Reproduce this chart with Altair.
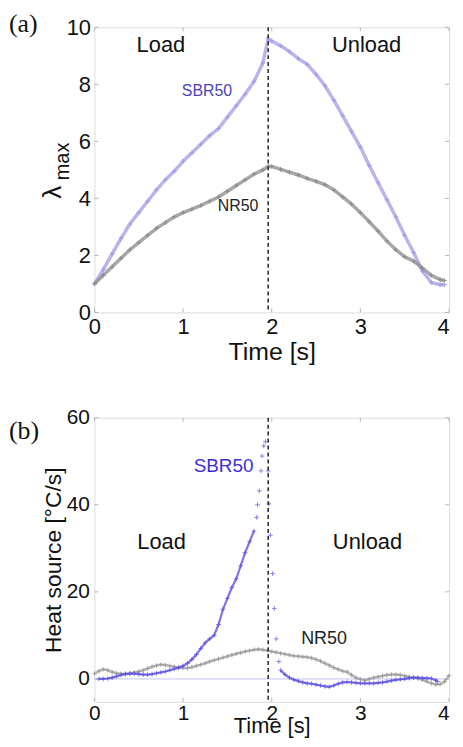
import altair as alt
import pandas as pd

# ---------------- Panel (a): lambda_max vs time ----------------
a_time = [0.0, 0.1, 0.2, 0.3, 0.4, 0.5, 0.6, 0.7, 0.8, 0.9, 1.0, 1.1, 1.2, 1.3, 1.4,
          1.5, 1.6, 1.7, 1.8, 1.9, 1.96,
          2.0, 2.1, 2.2, 2.3, 2.4, 2.5, 2.6, 2.7, 2.8, 2.9, 3.0, 3.1, 3.2, 3.3, 3.4,
          3.5, 3.6, 3.7, 3.8, 3.9, 3.95]
a_sbr50 = [1.0, 1.5, 2.05, 2.6, 3.1, 3.5, 3.9, 4.3, 4.65, 4.95, 5.3, 5.6, 5.9, 6.2, 6.45,
           6.85, 7.25, 7.65, 8.1, 8.75, 9.6,
           9.52, 9.35, 9.15, 8.9, 8.7, 8.35, 7.95, 7.45, 6.9, 6.35, 5.8, 5.15, 4.55, 3.95, 3.35,
           2.7, 2.1, 1.45, 1.05, 0.97, 0.97]
a_nr50 = [1.0, 1.3, 1.6, 1.9, 2.2, 2.45, 2.7, 2.95, 3.15, 3.35, 3.5, 3.62, 3.75, 3.9, 4.05,
          4.25, 4.45, 4.65, 4.85, 5.0, 5.12,
          5.12, 5.02, 4.92, 4.82, 4.7, 4.6, 4.48, 4.3, 4.05, 3.8, 3.5, 3.18, 2.85, 2.5, 2.2,
          1.95, 1.8, 1.55, 1.3, 1.15, 1.12]

# ---------------- Panel (b): heat source vs time ----------------
b_sbr_time = [0.05, 0.1, 0.15, 0.2, 0.25, 0.3, 0.35, 0.4, 0.45, 0.5, 0.55, 0.6, 0.65, 0.7,
              0.75, 0.8, 0.85, 0.9, 0.95, 1.0, 1.05, 1.1, 1.15, 1.2, 1.25, 1.3, 1.35, 1.4,
              1.45, 1.5, 1.55, 1.6, 1.65, 1.7, 1.75, 1.8,
              1.83, 1.84, 1.86, 1.88, 1.89, 1.91, 1.93, 1.96, 1.97, 1.985, 2.01, 2.03, 2.05, 2.08,
              2.1, 2.15, 2.2, 2.25, 2.3, 2.35, 2.4, 2.45, 2.5, 2.55, 2.6, 2.65, 2.7, 2.75,
              2.8, 2.85, 2.9, 2.95, 3.0, 3.05, 3.1, 3.15, 3.2, 3.25, 3.3, 3.35, 3.4, 3.45,
              3.5, 3.55, 3.6, 3.65, 3.7, 3.75, 3.8, 3.85, 3.87]
b_sbr50 = [0.0, 0.0, 0.1, 0.3, 0.6, 0.9, 1.1, 1.2, 1.2, 1.1, 1.0, 1.0, 1.1, 1.3,
           1.5, 1.7, 2.0, 2.3, 2.6, 3.0, 3.6, 4.5, 5.6, 7.0, 8.3, 9.2, 10.0, 12.5,
           16.0, 18.5, 21.0, 23.0, 26.0, 29.0, 31.5, 34.0,
           37.1, 40.0, 43.2, 47.8, 51.2, 53.5, 54.5, 47.8, 40.2, 33.0, 24.2, 16.2, 9.2, 4.0,
           2.0, 1.0, 0.3, -0.2, -0.5, -0.8, -1.0, -1.1, -1.3, -1.5, -1.7, -1.8, -1.5, -1.1,
           -0.8, -0.7, -0.8, -0.9, -1.0, -1.0, -1.0, -1.0, -0.9, -0.8, -0.6, -0.4, -0.2, -0.1,
           0.0, 0.2, 0.3, 0.3, 0.2, 0.2, 0.1, -0.3, -0.6]
# segment id: dense parts are joined by a line, the sparse peak is points only
b_sbr_seg = [1] * 36 + [2] * 14 + [3] * 37

b_nr_time = [0.0, 0.05, 0.1, 0.15, 0.2, 0.25, 0.3, 0.35, 0.4, 0.45, 0.5, 0.55, 0.6, 0.65,
             0.7, 0.75, 0.8, 0.85, 0.9, 0.95, 1.0, 1.05, 1.1, 1.15, 1.2, 1.25, 1.3, 1.35,
             1.4, 1.45, 1.5, 1.55, 1.6, 1.65, 1.7, 1.75, 1.8, 1.85, 1.9, 1.95, 2.0, 2.05,
             2.1, 2.15, 2.2, 2.25, 2.3, 2.35, 2.4, 2.45, 2.5, 2.55, 2.6, 2.65, 2.7, 2.75,
             2.8, 2.85, 2.9, 2.95, 3.0, 3.05, 3.1, 3.15, 3.2, 3.25, 3.3, 3.35, 3.4, 3.45,
             3.5, 3.55, 3.6, 3.65, 3.7, 3.75, 3.8, 3.85, 3.9, 3.95, 4.0]
b_nr50 = [1.2, 1.8, 2.2, 2.0, 1.6, 1.3, 1.2, 1.2, 1.3, 1.5, 1.7, 2.0, 2.4, 2.8,
          3.1, 3.3, 3.2, 3.0, 2.8, 2.6, 2.5, 2.5, 2.7, 3.0, 3.3, 3.6, 4.0, 4.3,
          4.6, 4.9, 5.2, 5.5, 5.8, 6.0, 6.3, 6.5, 6.7, 6.8, 6.7, 6.5, 6.3, 6.1,
          5.9, 5.7, 5.5, 5.3, 5.2, 5.1, 5.0, 4.8, 4.5, 4.1, 3.6, 3.1, 2.6, 2.2,
          1.8, 1.6, 0.9, 0.3, -0.1, -0.3, 0.0, 0.3, 0.5, 0.7, 0.9, 1.0, 1.0, 0.9,
          0.7, 0.5, 0.3, 0.1, -0.2, -0.6, -1.0, -1.3, -1.2, -0.6, 0.8]

# ticks and annotations
x_ticks = [0, 1, 2, 3, 4]
a_y_ticks = [0, 2, 4, 6, 8, 10]
b_y_ticks = [0, 20, 40, 60]
split_time = [1.96]

a_labels = ["Load", "Unload", "SBR50", "NR50"]
a_label_t = [0.75, 3.07, 1.27, 1.62]
a_label_v = [9.39, 9.39, 7.77, 3.73]
b_labels = ["Load", "Unload", "SBR50", "NR50"]
b_label_t = [0.757, 3.08, 1.457, 2.59]
b_label_v = [31.4, 31.4, 49.0, 9.2]

FONT = "Liberation Sans"
SERIF = "Liberation Serif"
CROSS = "M-1,0L1,0M0,-1L0,1"

W_A, H_A = 357, 287
W_B, H_B = 357, 286

xs = alt.Scale(domain=[0, 4], nice=False, zero=False)
ys_a = alt.Scale(domain=[0, 10], nice=False)
ys_b = alt.Scale(domain=[-5.25, 60], nice=False, zero=False)


def ticks_layer(tick_x, tick_y, yscale, W, H):
    dx = pd.DataFrame({"t": tick_x})
    dy = pd.DataFrame({"v": tick_y})
    c = "#b5b5b5"
    bx = alt.Chart(dx).mark_rule(color=c, strokeWidth=1).encode(
        x=alt.X("t:Q", scale=xs), y=alt.value(H), y2=alt.value(H - 4))
    tx = alt.Chart(dx).mark_rule(color=c, strokeWidth=1).encode(
        x=alt.X("t:Q", scale=xs), y=alt.value(0), y2=alt.value(4))
    ly = alt.Chart(dy).mark_rule(color=c, strokeWidth=1).encode(
        y=alt.Y("v:Q", scale=yscale), x=alt.value(0), x2=alt.value(4))
    ry = alt.Chart(dy).mark_rule(color=c, strokeWidth=1).encode(
        y=alt.Y("v:Q", scale=yscale), x=alt.value(W), x2=alt.value(W - 4))
    return [bx, tx, ly, ry]


common_axis = dict(labelFont=FONT, tickSize=0, ticks=False, domain=False, grid=False,
                   labelColor="#111", titleColor="#111", labelFlush=False, format="d")
# last x label kept inside the page: right-aligned at the plot edge
x_label_align = {"condition": {"test": "datum.value == 4", "value": "right"},
                 "value": "center"}

# ---------- panel a ----------
n = len(a_time)
df_a = pd.DataFrame({"t": a_time * 2, "v": a_sbr50 + a_nr50,
                     "s": ["SBR50"] * n + ["NR50"] * n})
col_a = alt.Color("s:N", scale=alt.Scale(domain=["SBR50", "NR50"],
                                         range=["#9f9ce6", "#8a8a8a"]), legend=None)
x_axis_a = alt.Axis(values=x_ticks, title="Time [s]", titleFontSize=25, titleFont=FONT,
                    titleFontWeight="normal", titlePadding=2, labelFontSize=22,
                    labelPadding=4, labelAlign=x_label_align, **common_axis)
y_axis_a = alt.Axis(values=a_y_ticks, title=None, labelFontSize=22, labelPadding=4,
                    **common_axis)

line_a = alt.Chart(df_a).mark_line(strokeWidth=3.5, opacity=0.75).encode(
    x=alt.X("t:Q", scale=xs, axis=x_axis_a),
    y=alt.Y("v:Q", scale=ys_a, axis=y_axis_a),
    color=col_a, detail="s:N")
pts_a = alt.Chart(df_a).mark_point(shape=CROSS, size=22, filled=False, strokeWidth=1,
                                   opacity=0.9).encode(
    x=alt.X("t:Q", scale=xs), y=alt.Y("v:Q", scale=ys_a), color=col_a)
dash_a = alt.Chart(pd.DataFrame({"t": split_time})).mark_rule(
    color="#222", strokeWidth=1.5, strokeDash=[4, 3]).encode(x=alt.X("t:Q", scale=xs))
ann_a = alt.Chart(pd.DataFrame({
    "lab": a_labels, "t": a_label_t, "v": a_label_v,
    "c": ["#111", "#111", "#4a44b8", "#222"], "fs": [22, 22, 16, 16]})).mark_text(
    font=FONT, baseline="middle", align="center").encode(
    x=alt.X("t:Q", scale=xs), y=alt.Y("v:Q", scale=ys_a), text="lab:N",
    color=alt.Color("c:N", scale=None), size=alt.Size("fs:Q", scale=None))
one = pd.DataFrame({"k": [0]})
tag_a = alt.Chart(one).mark_text(text="(a)", font=SERIF, fontSize=26, align="left",
                                 baseline="middle", color="#111").encode(
    x=alt.value(-86), y=alt.value(-3))
lam = alt.Chart(one).mark_text(text="λ", font=FONT, fontSize=26, align="center",
                               baseline="alphabetic", angle=270, color="#111").encode(
    x=alt.value(-34), y=alt.value(166))
lam_sub = alt.Chart(one).mark_text(text="max", font=FONT, fontSize=20, align="center",
                                   baseline="alphabetic", angle=270, color="#111").encode(
    x=alt.value(-26), y=alt.value(135))

panel_a = alt.layer(
    *ticks_layer(x_ticks, a_y_ticks, ys_a, W_A, H_A),
    line_a, pts_a, dash_a, ann_a, tag_a, lam, lam_sub
).properties(width=W_A, height=H_A)

# ---------- panel b ----------
df_bs = pd.DataFrame({"t": b_sbr_time, "v": b_sbr50, "seg": b_sbr_seg})
df_bn = pd.DataFrame({"t": b_nr_time, "v": b_nr50})
x_axis_b = alt.Axis(values=x_ticks, title="Time [s]", titleFontSize=22, titleFont=FONT,
                    titleFontWeight="normal", titleY=14, titleBaseline="top",
                    labelFontSize=21, labelPadding=1, labelAlign=x_label_align,
                    **common_axis)
y_axis_b = alt.Axis(values=b_y_ticks, title="Heat source [°C/s]", titleFontSize=23,
                    titleFont=FONT, titleFontWeight="normal", titlePadding=1,
                    labelFontSize=21, labelPadding=5, **common_axis)

zero_b = alt.Chart(pd.DataFrame({"v": [0]})).mark_rule(color="#c4c4f2", strokeWidth=1).encode(
    y=alt.Y("v:Q", scale=ys_b, axis=y_axis_b))
nr_line_b = alt.Chart(df_bn).mark_line(color="#a0a0a0", strokeWidth=2.5, opacity=0.7).encode(
    x=alt.X("t:Q", scale=xs, axis=x_axis_b), y=alt.Y("v:Q", scale=ys_b))
nr_pts_b = alt.Chart(df_bn).mark_point(shape=CROSS, size=22, filled=False, strokeWidth=1,
                                       color="#8f8f8f").encode(
    x=alt.X("t:Q", scale=xs), y=alt.Y("v:Q", scale=ys_b))
sbr_line_b = alt.Chart(df_bs).transform_filter("datum.seg != 2").mark_line(
    color="#5d50e2", strokeWidth=2.2, opacity=0.8).encode(
    x=alt.X("t:Q", scale=xs), y=alt.Y("v:Q", scale=ys_b), detail="seg:N")
sbr_pts_b = alt.Chart(df_bs).mark_point(shape=CROSS, size=22, filled=False, strokeWidth=1,
                                        color="#5a4de0").encode(
    x=alt.X("t:Q", scale=xs), y=alt.Y("v:Q", scale=ys_b))
dash_b = alt.Chart(pd.DataFrame({"t": split_time})).mark_rule(
    color="#222", strokeWidth=1.5, strokeDash=[4, 3]).encode(x=alt.X("t:Q", scale=xs))
ann_b = alt.Chart(pd.DataFrame({
    "lab": b_labels, "t": b_label_t, "v": b_label_v,
    "c": ["#111", "#111", "#3c30d8", "#222"], "fs": [22, 22, 19, 18]})).mark_text(
    font=FONT, baseline="middle", align="center").encode(
    x=alt.X("t:Q", scale=xs), y=alt.Y("v:Q", scale=ys_b), text="lab:N",
    color=alt.Color("c:N", scale=None), size=alt.Size("fs:Q", scale=None))
tag_b = alt.Chart(one).mark_text(text="(b)", font=SERIF, fontSize=26, align="left",
                                 baseline="middle", color="#111").encode(
    x=alt.value(-86), y=alt.value(13))

panel_b = alt.layer(
    zero_b, *ticks_layer(x_ticks, b_y_ticks, ys_b, W_B, H_B),
    nr_line_b, nr_pts_b, sbr_line_b, sbr_pts_b, dash_b, ann_b, tag_b
).properties(width=W_B, height=H_B)

chart = alt.vconcat(panel_a, panel_b, spacing=41).properties(
    padding={"left": 0, "top": 0, "right": 0, "bottom": 0}
).configure_view(stroke="#555", strokeWidth=1.5).configure(background="white")

chart.save("out.html", embed_options={"renderer": "svg", "actions": False})
